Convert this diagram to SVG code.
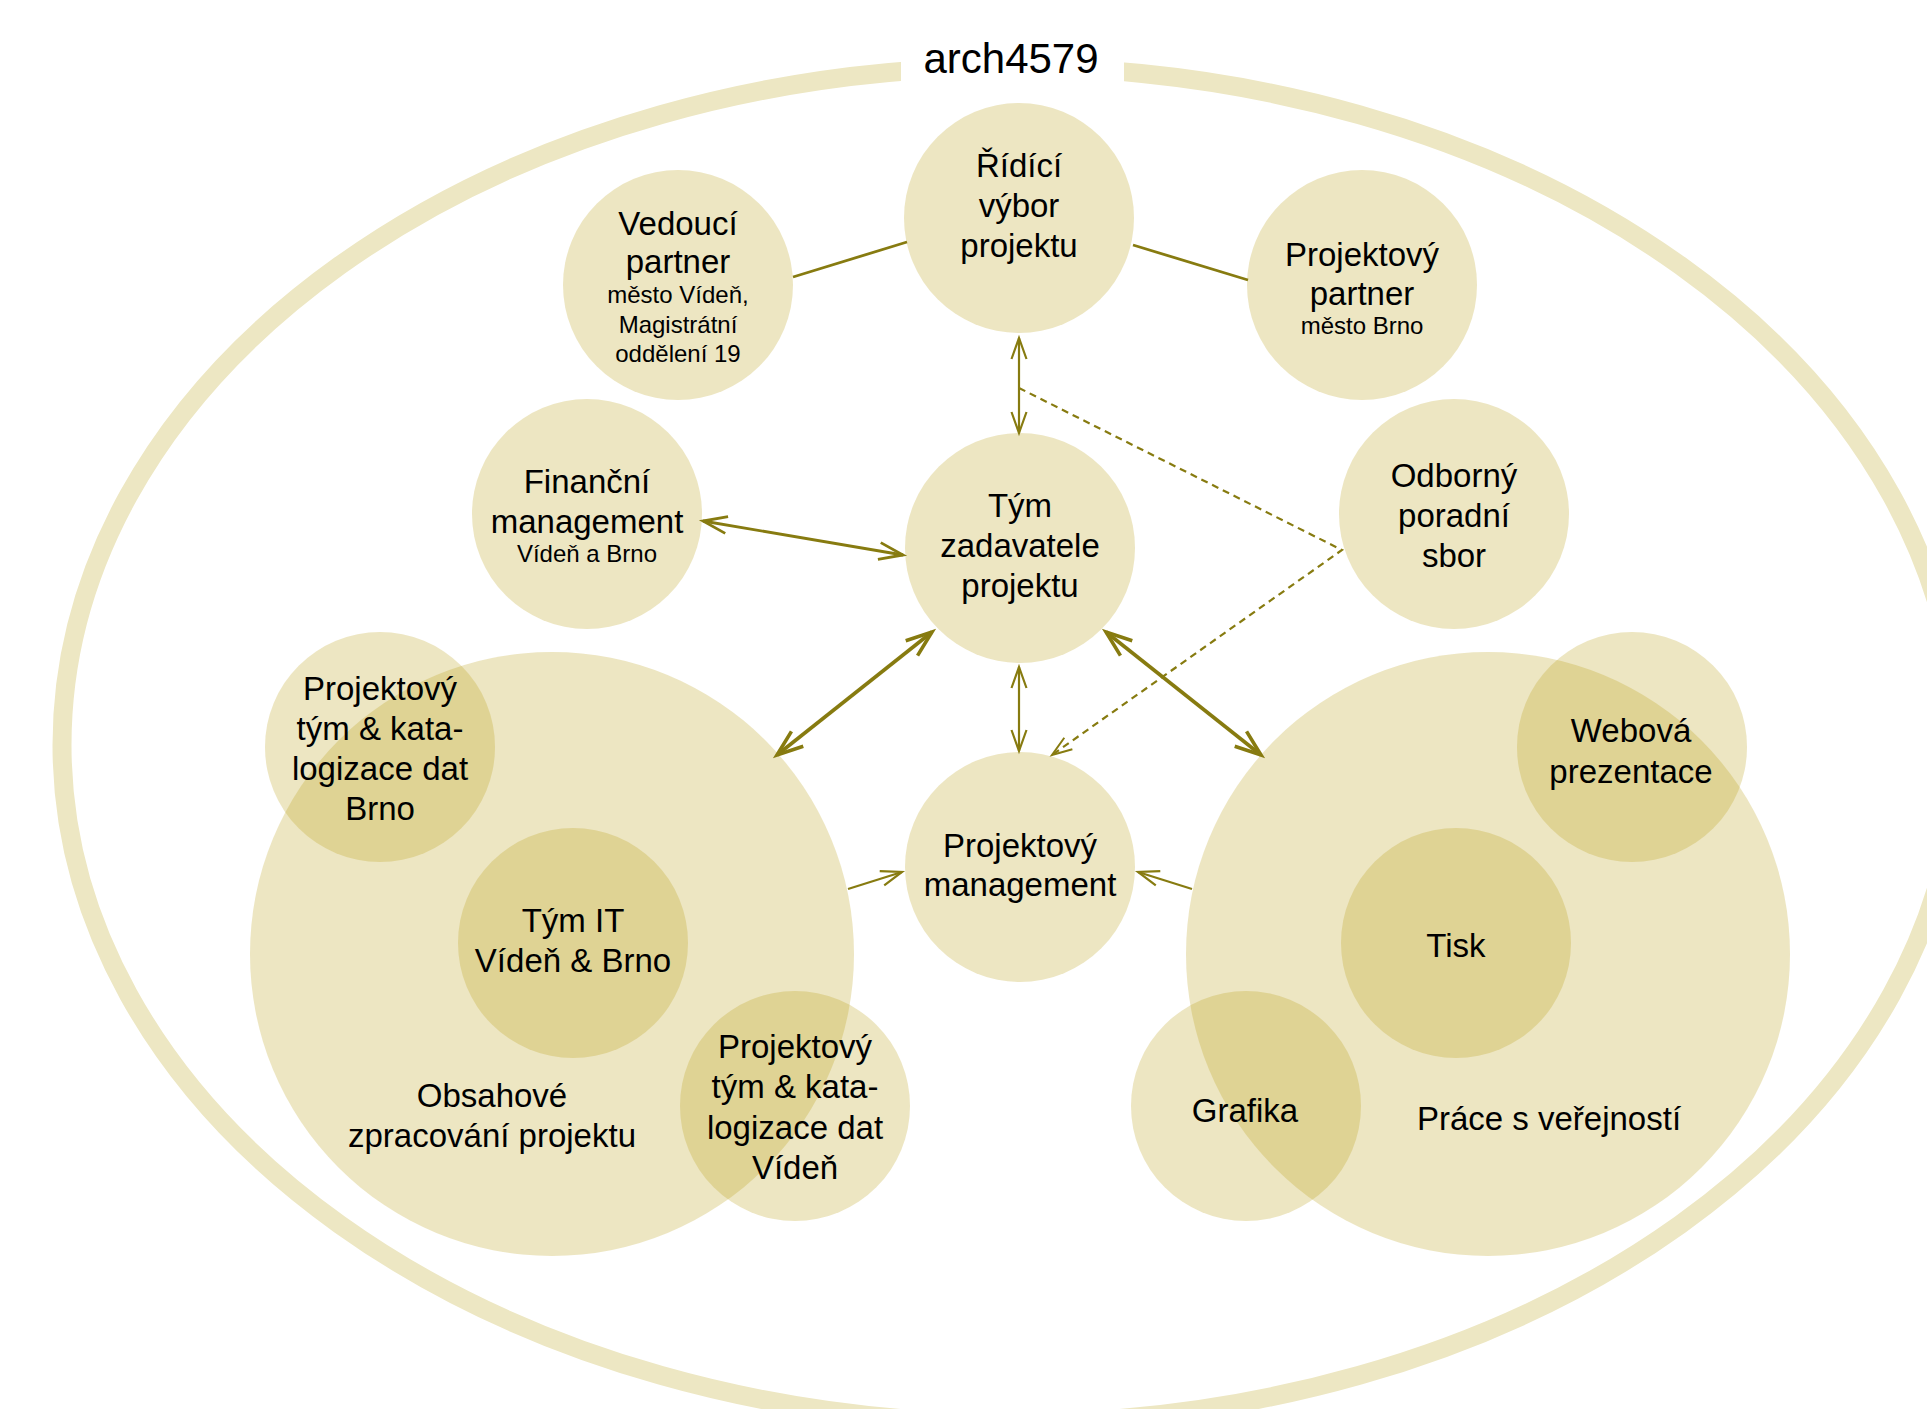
<svg xmlns="http://www.w3.org/2000/svg" width="1927" height="1409" viewBox="0 0 1927 1409">
<style>
.c{fill:rgb(183,155,11);fill-opacity:0.25}
.t{font-family:"Liberation Sans",Arial,Helvetica,sans-serif;font-size:33px;fill:#000;text-anchor:middle}
.s{font-size:24px}
.ln{stroke:#877B10;fill:none}
.thin{stroke-width:2.2}
.mid{stroke-width:2.8}
.thick{stroke-width:3.6}
.dash{stroke-width:2.2;stroke-dasharray:7 5}
</style>
<defs>
<marker id="aThin" markerUnits="userSpaceOnUse" overflow="visible" markerWidth="30" markerHeight="30" refX="0" refY="0" orient="auto-start-reverse">
<path d="M-21,-7.5 L0,0 L-21,7.5" fill="none" stroke="#877B10" stroke-width="2.2"/>
</marker>
<marker id="aMid" markerUnits="userSpaceOnUse" overflow="visible" markerWidth="30" markerHeight="30" refX="0" refY="0" orient="auto-start-reverse">
<path d="M-24,-8.5 L0,0 L-24,8.5" fill="none" stroke="#877B10" stroke-width="2.8"/>
</marker>
<marker id="aThick" markerUnits="userSpaceOnUse" overflow="visible" markerWidth="30" markerHeight="30" refX="0" refY="0" orient="auto-start-reverse">
<path d="M-26,-9.5 L0,0 L-26,9.5" fill="none" stroke="#877B10" stroke-width="3.6"/>
</marker>
<marker id="aDash" markerUnits="userSpaceOnUse" overflow="visible" markerWidth="30" markerHeight="30" refX="0" refY="0" orient="auto">
<path d="M-20,-7 L0,0 L-20,7" fill="none" stroke="#877B10" stroke-width="2"/>
</marker>
</defs>

<g id="frame">
<ellipse cx="1010" cy="745" rx="948" ry="678" fill="none" stroke="#EDE7C3" stroke-width="19"/>
<rect x="901" y="45" width="223" height="45" fill="#fff"/>
<text class="t" x="1011" y="73" style="font-size:42px">arch4579</text>
</g>

<g id="obsahove">
<circle class="c" cx="552" cy="954" r="302"/>
<text class="t" x="492" y="1107">Obsahové</text>
<text class="t" x="492" y="1147">zpracování projektu</text>
</g>
<g id="prace">
<circle class="c" cx="1488" cy="954" r="302"/>
<text class="t" x="1549" y="1130">Práce s veřejností</text>
</g>

<g id="ridici">
<circle class="c" cx="1019" cy="218" r="115"/>
<text class="t" x="1019" y="177">Řídící</text>
<text class="t" x="1019" y="217">výbor</text>
<text class="t" x="1019" y="257">projektu</text>
</g>
<g id="vedouci">
<circle class="c" cx="678" cy="285" r="115"/>
<text class="t" x="678" y="235">Vedoucí</text>
<text class="t" x="678" y="273">partner</text>
<text class="t s" x="678" y="303">město Vídeň,</text>
<text class="t s" x="678" y="333">Magistrátní</text>
<text class="t s" x="678" y="362">oddělení 19</text>
</g>
<g id="partner">
<circle class="c" cx="1362" cy="285" r="115"/>
<text class="t" x="1362" y="266">Projektový</text>
<text class="t" x="1362" y="305">partner</text>
<text class="t s" x="1362" y="334">město Brno</text>
</g>
<g id="financni">
<circle class="c" cx="587" cy="514" r="115"/>
<text class="t" x="587" y="493">Finanční</text>
<text class="t" x="587" y="533">management</text>
<text class="t s" x="587" y="562">Vídeň a Brno</text>
</g>
<g id="zadavatel">
<circle class="c" cx="1020" cy="548" r="115"/>
<text class="t" x="1020" y="517">Tým</text>
<text class="t" x="1020" y="557">zadavatele</text>
<text class="t" x="1020" y="597">projektu</text>
</g>
<g id="odborny">
<circle class="c" cx="1454" cy="514" r="115"/>
<text class="t" x="1454" y="487">Odborný</text>
<text class="t" x="1454" y="527">poradní</text>
<text class="t" x="1454" y="567">sbor</text>
</g>
<g id="pm">
<circle class="c" cx="1020" cy="867" r="115"/>
<text class="t" x="1020" y="857">Projektový</text>
<text class="t" x="1020" y="896">management</text>
</g>
<g id="brno">
<circle class="c" cx="380" cy="747" r="115"/>
<text class="t" x="380" y="700">Projektový</text>
<text class="t" x="380" y="740">tým &amp; kata-</text>
<text class="t" x="380" y="780">logizace dat</text>
<text class="t" x="380" y="820">Brno</text>
</g>
<g id="it">
<circle class="c" cx="573" cy="943" r="115"/>
<text class="t" x="573" y="932">Tým IT</text>
<text class="t" x="573" y="972">Vídeň &amp; Brno</text>
</g>
<g id="viden">
<circle class="c" cx="795" cy="1106" r="115"/>
<text class="t" x="795" y="1058">Projektový</text>
<text class="t" x="795" y="1098">tým &amp; kata-</text>
<text class="t" x="795" y="1139">logizace dat</text>
<text class="t" x="795" y="1179">Vídeň</text>
</g>
<g id="webova">
<circle class="c" cx="1632" cy="747" r="115"/>
<text class="t" x="1631" y="742">Webová</text>
<text class="t" x="1631" y="783">prezentace</text>
</g>
<g id="tisk">
<circle class="c" cx="1456" cy="943" r="115"/>
<text class="t" x="1456" y="957">Tisk</text>
</g>
<g id="grafika">
<circle class="c" cx="1246" cy="1106" r="115"/>
<text class="t" x="1245" y="1122">Grafika</text>
</g>

<g id="connectors">
<line class="ln mid" x1="793" y1="277" x2="907" y2="242"/>
<line class="ln mid" x1="1133" y1="245" x2="1248" y2="280"/>
<line class="ln thin" x1="1019" y1="338" x2="1019" y2="433" marker-start="url(#aThin)" marker-end="url(#aThin)"/>
<line class="ln thin" x1="1019" y1="667" x2="1019" y2="751" marker-start="url(#aThin)" marker-end="url(#aThin)"/>
<line class="ln mid" x1="703" y1="521" x2="903" y2="555" marker-start="url(#aMid)" marker-end="url(#aMid)"/>
<line class="ln thick" x1="932" y1="632" x2="777" y2="755" marker-start="url(#aThick)" marker-end="url(#aThick)"/>
<line class="ln thick" x1="1106" y1="632" x2="1261" y2="755" marker-start="url(#aThick)" marker-end="url(#aThick)"/>
<line class="ln thin" x1="848" y1="889" x2="902" y2="872" marker-end="url(#aThin)"/>
<line class="ln thin" x1="1192" y1="889" x2="1138" y2="872" marker-end="url(#aThin)"/>
<polyline class="ln dash" points="1019,388 1342,550 1052,755" marker-end="url(#aDash)"/>
</g>
</svg>
